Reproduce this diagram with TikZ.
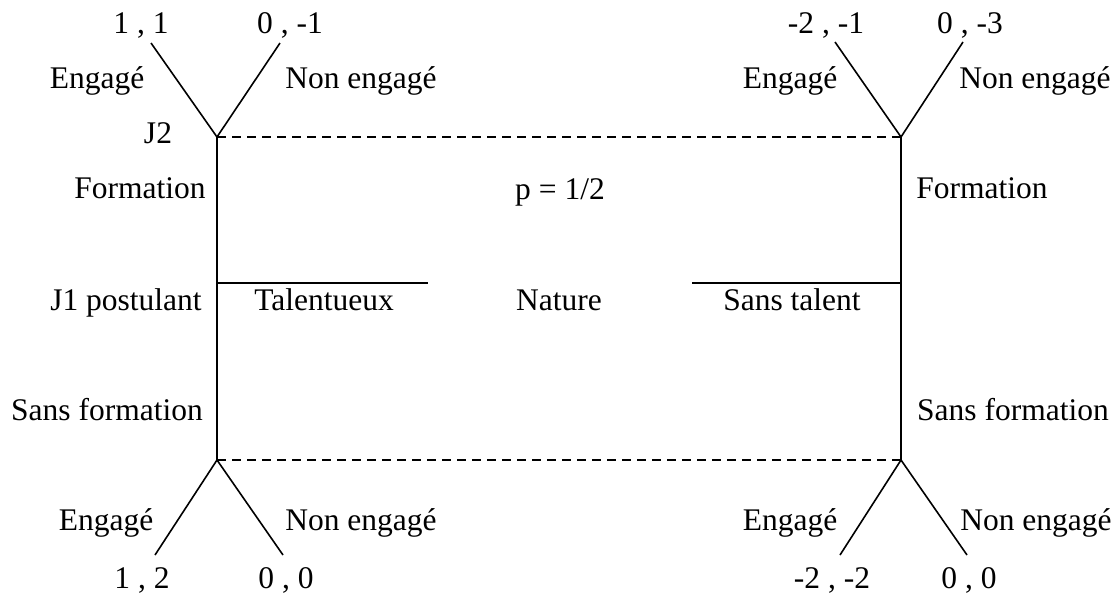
\documentclass[tikz,border=0pt]{standalone}
\usepackage{fontspec}
\setmainfont{Liberation Serif}
\begin{document}
\begin{tikzpicture}[x=1pt,y=-1pt,
  lbl/.style={anchor=base,inner sep=0pt,font=\fontsize{31.5}{36}\selectfont},
  edge/.style={line width=1.6pt,line cap=butt},
  infoset/.style={line width=1.4pt,dash pattern=on 9pt off 6pt}]
\useasboundingbox (0,0) rectangle (1118,595);
% coordinates
\coordinate (tl) at (217,137);
\coordinate (bl) at (217,460);
\coordinate (tr) at (901,137);
\coordinate (br) at (901,460);
\coordinate (jl) at (217,283);
\coordinate (jr) at (901,283);
\coordinate (hl) at (428,283);
\coordinate (hr) at (692,283);
\coordinate (tla) at (151,43);
\coordinate (tlb) at (280,43);
\coordinate (tra) at (835,42);
\coordinate (trb) at (963,42);
\coordinate (bla) at (155,555);
\coordinate (blb) at (283,555);
\coordinate (bra) at (840,555);
\coordinate (brb) at (967,555);
% edges
\draw[edge] (tl) -- (bl);
\draw[edge] (tr) -- (br);
\draw[edge] (jl) -- (hl);
\draw[edge] (hr) -- (jr);
\draw[edge] (tla) -- (tl) -- (tlb);
\draw[edge] (tra) -- (tr) -- (trb);
\draw[edge] (bla) -- (bl) -- (blb);
\draw[edge] (bra) -- (br) -- (brb);
\draw[infoset] (tl) -- (tr);
\draw[infoset] (bl) -- (br);
% labels top left
\node[lbl] (p11) at (141,33) {1 , 1};
\node[lbl] (p0m1) at (290,33) {0 , -1};
\node[lbl] (etl) at (97,88) {Engagé};
\node[lbl] (ntl) at (361,88) {Non engagé};
\node[lbl] (j2) at (158,143) {J2};
\node[lbl] (fl) at (140,198) {Formation};
% top right
\node[lbl] (pm2m1) at (826,33) {-2 , -1};
\node[lbl] (p0m3) at (970,33) {0 , -3};
\node[lbl] (etr) at (790,88) {Engagé};
\node[lbl] (ntr) at (1035,88) {Non engagé};
\node[lbl] (fr) at (982,198) {Formation};
% middle
\node[lbl] (prob) at (560,199) {p = 1/2};
\node[lbl] (j1) at (126,310) {J1 postulant};
\node[lbl] (tal) at (324,310) {Talentueux};
\node[lbl] (nat) at (559,310) {Nature};
\node[lbl] (stal) at (792,310) {Sans talent};
\node[lbl] (sfl) at (107,420) {Sans formation};
\node[lbl] (sfr) at (1013,420) {Sans formation};
% bottom left
\node[lbl] (ebl) at (106,530) {Engagé};
\node[lbl] (nbl) at (361,530) {Non engagé};
\node[lbl] (p12) at (142,588) {1 , 2};
\node[lbl] (p00l) at (286,588) {0 , 0};
% bottom right
\node[lbl] (ebr) at (790,530) {Engagé};
\node[lbl] (nbr) at (1036,530) {Non engagé};
\node[lbl] (pm2m2) at (832,588) {-2 , -2};
\node[lbl] (p00r) at (969,588) {0 , 0};
\end{tikzpicture}
\end{document}
